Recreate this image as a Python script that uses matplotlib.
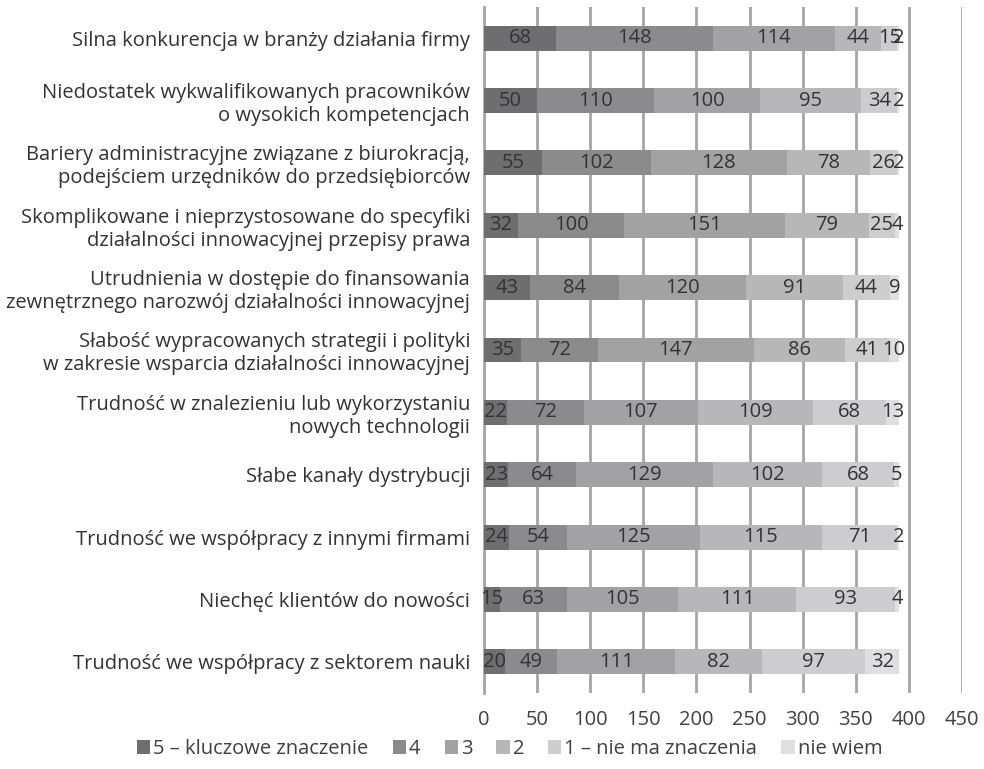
import numpy as np
import matplotlib.pyplot as plt
from matplotlib.patches import Patch

plt.rcParams['font.family'] = ['Open Sans', 'DejaVu Sans']

# kategorie (od góry do dołu)
kategorie = [
    "Silna konkurencja w branży działania firmy",
    "Niedostatek wykwalifikowanych pracowników\no wysokich kompetencjach",
    "Bariery administracyjne związane z biurokracją,\npodejściem urzędników do przedsiębiorców",
    "Skomplikowane i nieprzystosowane do specyfiki\ndziałalności innowacyjnej przepisy prawa",
    "Utrudnienia w dostępie do finansowania\nzewnętrznego narozwój działalności innowacyjnej",
    "Słabość wypracowanych strategii i polityki\nw zakresie wsparcia działalności innowacyjnej",
    "Trudność w znalezieniu lub wykorzystaniu\nnowych technologii",
    "Słabe kanały dystrybucji",
    "Trudność we współpracy z innymi firmami",
    "Niechęć klientów do nowości",
    "Trudność we współpracy z sektorem nauki",
]

serie = ["5 – kluczowe znaczenie", "4", "3", "2", "1 – nie ma znaczenia", "nie wiem"]

v5 = [68, 50, 55, 32, 43, 35, 22, 23, 24, 15, 20]
v4 = [148, 110, 102, 100, 84, 72, 72, 64, 54, 63, 49]
v3 = [114, 100, 128, 151, 120, 147, 107, 129, 125, 105, 111]
v2 = [44, 95, 78, 79, 91, 86, 109, 102, 115, 111, 82]
v1 = [15, 34, 26, 25, 44, 41, 68, 68, 71, 93, 97]
vnw = [2, 2, 2, 4, 9, 10, 13, 5, 2, 4, 32]

kolory = ["#6e6e70", "#8b8b8d", "#a2a2a4", "#b7b7b9", "#cdcdcf", "#dfdfe1"]

dane = [v5, v4, v3, v2, v1, vnw]
fs = 14.5

fig = plt.figure(figsize=(9.84, 7.69), dpi=100)
ax = fig.add_axes([484/984, 1 - 693/769, (962-484)/984, 686/769])

y = np.arange(len(kategorie))
left = np.zeros(len(kategorie))
for vals, kol in zip(dane, kolory):
    vals = np.array(vals)
    ax.barh(y, vals, left=left, height=0.4, color=kol, zorder=3)
    for yi, l, v in zip(y, left, vals):
        ax.text(l + v / 2, yi, str(v), ha='center', va='center',
                fontsize=fs, color='#333333', zorder=4)
    left += vals

ax.set_xlim(0, 450)
ax.set_ylim(len(kategorie) - 0.5, -0.5)
ax.set_xticks(np.arange(0, 451, 50))
ax.set_yticks(y)
ax.set_yticklabels(kategorie, fontsize=fs, color='#333333', ha='right')
ax.tick_params(axis='x', labelsize=fs, colors='#404040', length=0, pad=12)
ax.tick_params(axis='y', length=0, pad=10)
ax.grid(axis='x', color='#a6a6a6', linewidth=2, zorder=0)
for s in ['top', 'right', 'bottom']:
    ax.spines[s].set_visible(False)
ax.spines['left'].set_color('#a6a6a6')
ax.spines['left'].set_linewidth(2)

uchwyty = [Patch(facecolor=k, label=s) for k, s in zip(kolory, serie)]
fig.legend(handles=uchwyty, loc='center', bbox_to_anchor=(0.518, 1 - 749/769),
           ncol=6, frameon=False, fontsize=fs, handlelength=0.65,
           handleheight=0.65, handletextpad=0.15, columnspacing=1.2,
           labelcolor='#404040', borderpad=0)

fig.savefig("out.png", dpi=100)
